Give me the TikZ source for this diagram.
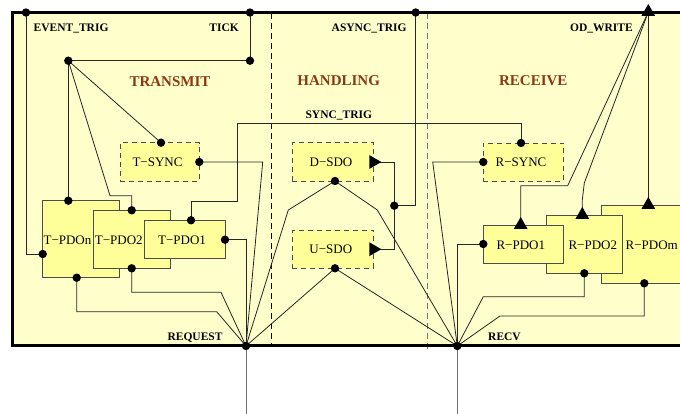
\documentclass[tikz,border=0pt]{standalone}
\usepackage{fontspec}
\setmainfont{Liberation Serif}
\usetikzlibrary{shapes.geometric}
\definecolor{bg}{RGB}{255,255,204}
\definecolor{boxy}{RGB}{255,255,153}
\definecolor{brn}{RGB}{140,56,20}
\begin{document}
\begin{tikzpicture}[x=1pt,y=-1pt,
  wire/.style={line width=0.8pt, draw=black!85},
  box/.style={draw=black!70, line width=0.8pt, fill=boxy, inner sep=0pt},
  dbox/.style={box, dash pattern=on 5pt off 4pt},
  tri/.style={regular polygon, regular polygon sides=3, fill=black, inner sep=0pt, minimum size=16pt},
  lbl/.style={font=\fontsize{13}{14}\selectfont, inner sep=0pt},
  sig/.style={font=\fontsize{11.5}{12}\selectfont\bfseries, inner sep=0pt},
  head/.style={font=\fontsize{15}{16}\selectfont\bfseries, text=brn, inner sep=0pt},
  sep/.style={line width=0.8pt, dash pattern=on 6pt off 4pt},
]
\useasboundingbox (0,0) rectangle (680,414);
% background
\fill[bg] (12.5,12.5) rectangle (700,345.5);
\draw[sep, black] (271.7,13) -- (271.7,345);
\draw[sep, black!55] (427.7,13) -- (427.7,352);

% boxes
\node[box, minimum width=76.3pt, minimum height=77pt] (tpdon) at (80.85,239.2) {};
\node[box, minimum width=76.7pt, minimum height=58pt] (tpdo2) at (131.65,239.3) {};
\node[box, minimum width=81pt, minimum height=38pt] (tpdo1) at (184.5,239.3) {};
\node[dbox, minimum width=79.3pt, minimum height=38.3pt] (tsync) at (159.65,161.85) {};
\node[dbox, minimum width=81pt, minimum height=38.3pt] (dsdo) at (332.8,161.85) {};
\node[dbox, minimum width=81pt, minimum height=38.3pt] (usdo) at (332.8,249.15) {};
\node[dbox, minimum width=80.4pt, minimum height=38pt] (rsync) at (523.5,162) {};
\node[box, minimum width=84pt, minimum height=78.3pt] (rpdom) at (643.7,244.15) {};
\node[box, minimum width=76.4pt, minimum height=58.3pt] (rpdo2) at (584.5,244.15) {};
\node[box, minimum width=80.4pt, minimum height=38.3pt] (rpdo1) at (523.5,244.15) {};

% ports
\coordinate (evt) at (26,12.5);
\coordinate (tick) at (250,12.5);
\coordinate (async) at (415.7,12.5);
\coordinate (odw) at (648.3,12);
\coordinate (req) at (246,346);
\coordinate (recv) at (457.3,346);
\coordinate (tj) at (68.3,60.7);
\coordinate (tk) at (250,60.7);
\coordinate (tsync-n) at (161,142.7);
\coordinate (tsync-e) at (199.3,162);
\coordinate (tpdon-n) at (68.3,200.7);
\coordinate (tpdon-w) at (42.7,254);
\coordinate (tpdon-s) at (76.7,277.7);
\coordinate (tpdo2-n) at (131.7,210.3);
\coordinate (tpdo2-s) at (131.7,268.3);
\coordinate (tpdo1-n) at (191,220.3);
\coordinate (tpdo1-e) at (225,239.7);
\coordinate (dsdo-e) at (373.3,162);
\coordinate (dsdo-s) at (335,181);
\coordinate (usdo-e) at (373.3,249.2);
\coordinate (usdo-s) at (335,268.3);
\coordinate (aj) at (394.3,205.7);
\coordinate (rsync-n) at (521,143);
\coordinate (rsync-w) at (483.3,162);
\coordinate (rpdo1-n) at (520.7,225);
\coordinate (rpdo1-w) at (483.3,244);
\coordinate (rpdo2-n) at (582.3,215);
\coordinate (rpdo2-s) at (584.3,273.3);
\coordinate (rpdom-n) at (648.3,205);
\coordinate (rpdom-s) at (644.3,283.3);
\coordinate (reqend) at (246,414);
\coordinate (recvend) at (457.3,414);

% wires
\draw[wire] (evt) |- (tpdon-w);
\draw[wire] (tick) -- (tk) -- (tj);
\draw[wire] (tj) -- (tsync-n);
\draw[wire] (tj) -- (tpdon-n);
\draw[wire] (tj) -- (110,195.7) -| (tpdo2-n);
\draw[wire] (tpdo1-n) -- (191,201) -| (237.7,123.3) -| (rsync-n);
\draw[wire] (tsync-e) -- (262.7,162) -- (req);
\draw[wire] (tpdo1-e) -| (req);
\draw[wire] (tpdo2-s) |- (221,292.3) -- (req);
\draw[wire] (tpdon-s) |- (216.7,311.7) -- (req);
\draw[wire] (dsdo-s) -- (288.3,210) -- (req);
\draw[wire] (dsdo-s) -- (377.3,210) -- (recv);
\draw[wire] (usdo-s) -- (req);
\draw[wire] (usdo-s) -- (recv);
\draw[wire] (dsdo-e) -- (394.3,162) -- (394.3,249.2) -- (usdo-e);
\draw[wire] (aj) -| (async);
\draw[wire] (rsync-w) -- (432.7,162) -- (recv);
\draw[wire] (rpdo1-w) -| (recv);
\draw[wire] (rpdo2-s) |- (483.3,296.7) -- (recv);
\draw[wire] (rpdom-s) |- (500,316) -- (recv);
\draw[wire] (odw) -- (rpdom-n);
\draw[wire] (odw) -- (584.3,183) -- (582.3,200) -- (rpdo2-n);
\draw[wire] (odw) -- (567.7,185.7) -| (rpdo1-n);
\draw[wire, draw=black!55] (req) -- (reqend);
\draw[wire, draw=black!55] (recv) -- (recvend);

% frame
\draw[line width=2.6pt] (12.5,12.5) rectangle (700,345.5);

% dots
\foreach \p in {evt,tick,async,tj,tk,tsync-n,tsync-e,tpdon-n,tpdon-w,tpdon-s,tpdo2-n,tpdo2-s,tpdo1-n,tpdo1-e,dsdo-s,usdo-s,aj,rsync-n,rsync-w,rpdo1-w,rpdo2-s,rpdom-s,req,recv}
  \fill (\p) circle (4.2pt);
% triangles
\node[tri] (t-odw) at (odw) {};
\node[tri] (t-rpdom) at (rpdom-n) {};
\node[tri] (t-rpdo2) at (rpdo2-n) {};
\node[tri] (t-rpdo1) at (rpdo1-n) {};
\node[tri, rotate=-90] (t-dsdo) at (dsdo-e) {};
\node[tri, rotate=-90] (t-usdo) at (usdo-e) {};

% signal labels
\node[sig, anchor=base west] (l-evt) at (33.5,31.7) {EVENT\_TRIG};
\node[sig, anchor=base east] (l-tick) at (239,31.7) {TICK};
\node[sig, anchor=base east] (l-async) at (406.7,32) {ASYNC\_TRIG};
\node[sig, anchor=base east] (l-odw) at (633,32) {OD\_WRITE};
\node[sig, anchor=base] (l-sync) at (338.8,119) {SYNC\_TRIG};
\node[sig, anchor=base east] (l-req) at (222.7,340.7) {REQUEST};
\node[sig, anchor=base west] (l-recv) at (488,340.7) {RECV};
\node[head, anchor=base] (h-tx) at (170,87) {TRANSMIT};
\node[head, anchor=base] (h-hd) at (338.7,86) {HANDLING};
\node[head, anchor=base] (h-rx) at (533.3,86) {RECEIVE};

% box labels
\node[lbl, anchor=base] (x-tsync) at (157.5,166.7) {T−SYNC};
\node[lbl, anchor=base] (x-dsdo) at (331,167) {D−SDO};
\node[lbl, anchor=base] (x-usdo) at (330.8,254) {U−SDO};
\node[lbl, anchor=base] (x-rsync) at (521,166.7) {R−SYNC};
\node[lbl, anchor=base] (x-tpdon) at (67.5,244) {T−PDOn};
\node[lbl, anchor=base] (x-tpdo2) at (118.8,244) {T−PDO2};
\node[lbl, anchor=base] (x-tpdo1) at (182,244) {T−PDO1};
\node[lbl, anchor=base] (x-rpdo1) at (520.8,249) {R−PDO1};
\node[lbl, anchor=base] (x-rpdo2) at (592.8,249) {R−PDO2};
\node[lbl, anchor=base] (x-rpdom) at (651.7,249) {R−PDOm};
\end{tikzpicture}
\end{document}
